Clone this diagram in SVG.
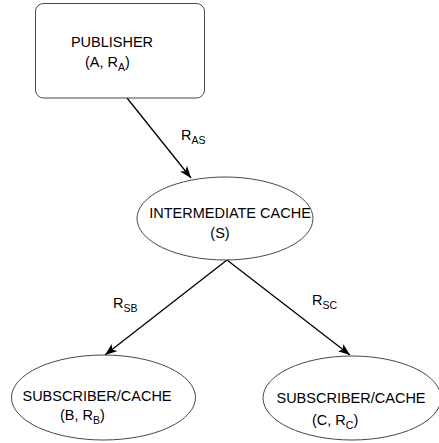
<svg xmlns="http://www.w3.org/2000/svg" width="439" height="443" viewBox="0 0 439 443">
<style>
text{font-family:"Liberation Sans",Arial,sans-serif;font-size:14.5px;fill:#000}
.sub{font-size:10.5px}
.node{fill:#fff;stroke:#333;stroke-width:0.9}
.edge{stroke:#000;stroke-width:1.3;fill:none;marker-end:url(#ah)}
</style>
<defs>
<marker id="ah" markerWidth="14" markerHeight="10" refX="12" refY="4.5" orient="auto" markerUnits="userSpaceOnUse">
<path d="M0,0 L12,4.5 L0,9 L3,4.5 z" fill="#000"/>
</marker>
</defs>
<rect width="439" height="443" fill="#fff"/>
<g id="connectors">
<line class="edge" x1="127" y1="98" x2="191" y2="178"/>
<line class="edge" x1="227" y1="260" x2="105" y2="355"/>
<line class="edge" x1="227" y1="260" x2="350" y2="355"/>
<text x="181" y="140">R<tspan class="sub" dy="4">AS</tspan></text>
<text x="113" y="308">R<tspan class="sub" dy="4">SB</tspan></text>
<text x="312" y="305">R<tspan class="sub" dy="4">SC</tspan></text>
</g>
<g id="publisher">
<rect class="node" x="35.5" y="3.5" width="169" height="94.5" rx="8"/>
<text x="112" y="47" text-anchor="middle">PUBLISHER</text>
<text x="85" y="67">(A, R<tspan class="sub" dy="4">A</tspan><tspan dy="-4">)</tspan></text>
</g>
<g id="intermediate">
<ellipse class="node" cx="225" cy="218.5" rx="88" ry="41.5"/>
<text x="230" y="218" text-anchor="middle">INTERMEDIATE CACHE</text>
<text x="220" y="238" text-anchor="middle">(S)</text>
</g>
<g id="subscriberB">
<ellipse class="node" cx="103.5" cy="397.5" rx="92" ry="42.5"/>
<text x="97" y="401" text-anchor="middle">SUBSCRIBER/CACHE</text>
<text x="60" y="420">(B, R<tspan class="sub" dy="4">B</tspan><tspan dy="-4">)</tspan></text>
</g>
<g id="subscriberC">
<ellipse class="node" cx="352" cy="398" rx="89" ry="42"/>
<text x="351" y="403" text-anchor="middle">SUBSCRIBER/CACHE</text>
<text x="312" y="425">(C, R<tspan class="sub" dy="4">C</tspan><tspan dy="-4">)</tspan></text>
</g>
</svg>
